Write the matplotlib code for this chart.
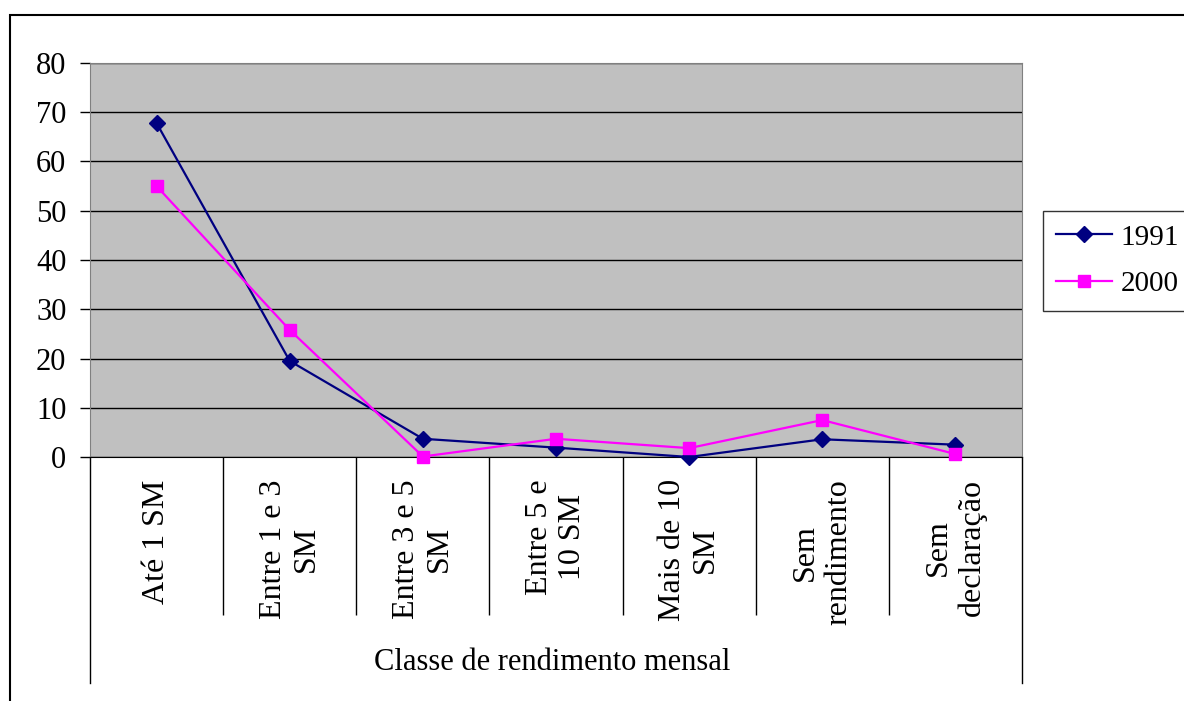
import matplotlib.pyplot as plt
from matplotlib.patches import Rectangle

plt.rcParams['font.family'] = ['Liberation Serif', 'DejaVu Serif']

categories = ["Até 1 SM", "Entre 1 e 3\nSM", "Entre 3 e 5\nSM", "Entre 5 e\n10 SM",
              "Mais de 10\nSM", "Sem\nrendimento", "Sem\ndeclaração"]
s1991 = [67.8, 19.5, 3.7, 1.9, 0.0, 3.6, 2.5]
s2000 = [55.0, 25.8, 0.1, 3.7, 1.8, 7.5, 0.6]
yticks = [0, 10, 20, 30, 40, 50, 60, 70, 80]
group_label = "Classe de rendimento mensal"

W, H = 1184, 701
fig = plt.figure(figsize=(W / 100, H / 100), dpi=100)
ax = fig.add_axes([90 / W, 1 - 457 / H, (1022 - 90) / W, (457 - 63) / H])
ax.set_facecolor("#C0C0C0")

x = [i + 0.5 for i in range(len(categories))]
ax.plot(x, s1991, color="#000080", lw=1.6, marker="D", ms=8.5, label="1991", clip_on=False, zorder=3)
ax.plot(x, s2000, color="#FF00FF", lw=1.6, marker="s", ms=8, label="2000", clip_on=False, zorder=3)

ax.set_xlim(0, len(categories))
ax.set_ylim(0, 80)
ax.set_yticks(yticks)
ax.yaxis.grid(True, color="black", lw=1)
ax.set_axisbelow(True)
ax.tick_params(axis="y", length=7, width=1, pad=10, labelsize=22)

# category labels + separators
ax.set_xticks(x)
ax.set_xticklabels(categories, rotation=90, ha="center", va="top", multialignment="center", fontsize=23)
ax.tick_params(axis="x", which="major", length=0, pad=16)
ax.set_xticks(range(1, len(categories)), minor=True)
ax.tick_params(axis="x", which="minor", length=114, width=1, direction="out", color="black")

tr = ax.get_xaxis_transform()
for xe in (0, len(categories)):
    ax.plot([xe, xe], [0, -0.574], transform=tr, color="black", lw=1, clip_on=False)
ax.text(3.47, -0.522, group_label, transform=tr, ha="center", va="center", fontsize=22)

for side in ("top", "right", "left"):
    ax.spines[side].set_color("#808080")
ax.spines["bottom"].set_color("black")

leg = fig.legend(loc="upper left", bbox_to_anchor=(1043 / W, 1 - 211 / H), bbox_transform=fig.transFigure,
                 borderaxespad=0, fontsize=21, frameon=True, fancybox=False, handlelength=1.9,
                 labelspacing=0.7, borderpad=0.45, handletextpad=0.3)
leg.get_frame().set_edgecolor("black")
leg.get_frame().set_linewidth(1)

# outer chart frame
fig.patches.append(Rectangle((10 / W, -0.1), 1.2, 1 - 15 / H + 0.1, transform=fig.transFigure,
                             fill=False, edgecolor="black", lw=1.5))

fig.savefig("out.png", dpi=100)
